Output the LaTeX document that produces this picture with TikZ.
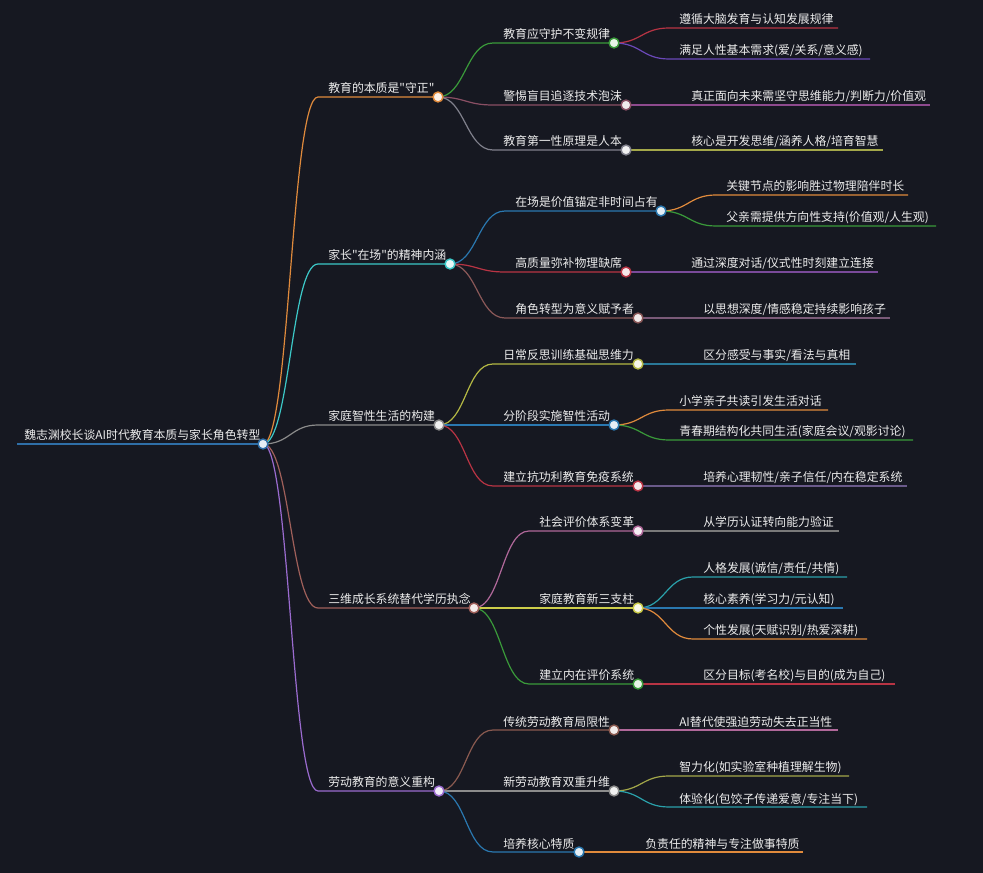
\documentclass[tikz,border=0pt]{standalone}
\usepackage{fontspec}
\newfontfamily\cjk{Noto Sans CJK SC}
\usetikzlibrary{calc}
\pgfdeclarelayer{front}
\pgfsetlayers{main,front}
\definecolor{bg}{HTML}{161821}
\definecolor{txt}{HTML}{ECECEC}
\definecolor{rootblue}{HTML}{2F6FA8}
\definecolor{corange}{HTML}{E08A3C}
\definecolor{ccyan}{HTML}{3CC8C8}
\definecolor{cgrey}{HTML}{8C8C8C}
\definecolor{cbrownred}{HTML}{A0605A}
\definecolor{cpurple}{HTML}{9B6BD0}
\definecolor{cgreen}{HTML}{3A9A3A}
\definecolor{crosebrown}{HTML}{8A4F64}
\definecolor{cslate}{HTML}{80808C}
\definecolor{cred}{HTML}{B83444}
\definecolor{cviolet}{HTML}{6A48B8}
\definecolor{cplum}{HTML}{8E4A8E}
\definecolor{colive}{HTML}{A4A84A}
\definecolor{cblue}{HTML}{2A78B0}
\definecolor{cbrown}{HTML}{8A5858}
\definecolor{clilac}{HTML}{7A4A9A}
\definecolor{cmauve}{HTML}{7A5A78}
\definecolor{cyg}{HTML}{B4B844}
\definecolor{ctealblue}{HTML}{2A7898}
\definecolor{cdusk}{HTML}{6A5A8A}
\definecolor{cpink}{HTML}{B0689A}
\definecolor{cyellow}{HTML}{CDCD4A}
\definecolor{cteal}{HTML}{2AA0AA}
\definecolor{cgreyd}{HTML}{7A7A7A}
\definecolor{cbrowne}{HTML}{8A5A50}
\tikzset{
  lbl/.style={anchor=base west, inner sep=0pt, text=txt, font=\cjk\fontsize{8.9}{10}\selectfont},
  dotn/.style={circle, inner sep=0pt, minimum size=7.4pt, line width=1.1pt, draw=#1, fill=white!88!#1},
  link/.style={line width=0.9pt, draw=#1},
  mm/.style={to path={.. controls +(27,0) and +(-27,0) .. (\tikztotarget)}}
}
% parent, name, textx, liney, dotx, colour, text
\newcommand\mmchild[7]{%
  \coordinate (#2s) at ({#3-10},#4);
  \node[lbl] (#2t) at (#3,{#4-4}) {#7};
  \begin{pgfonlayer}{front}\node[dotn=#6] (#2) at (#5,#4) {};\end{pgfonlayer}
  \draw[link=#6] (#1.center) to[mm] (#2s) -- (#2.center);
}
% parent, name, textx, liney, endx, colour, text
\newcommand\mmleaf[7]{%
  \coordinate (#2s) at ({#3-10},#4);
  \coordinate (#2e) at (#5,#4);
  \node[lbl] (#2t) at (#3,{#4-4}) {#7};
  \draw[link=#6] (#1.center) to[mm] (#2s) -- (#2e);
}
\begin{document}
\begin{tikzpicture}[x=0.75pt,y=-0.75pt]
\fill[bg] (0,0) rectangle (983,873);
\useasboundingbox (0,0) rectangle (983,873);

% root
\coordinate (Rs) at (17,444);
\node[lbl] (Rt) at (24,440) {魏志渊校长谈AI时代教育本质与家长角色转型};
\begin{pgfonlayer}{front}\node[dotn=rootblue] (R) at (263,444) {};\end{pgfonlayer}
\draw[link=rootblue, line width=1.8pt] (Rs) -- (R.center);

% level 1
\mmchild{R}{A}{328}{97}{438}{corange}{教育的本质是"守正"}
\mmchild{R}{B}{328}{264}{450}{ccyan}{家长"在场"的精神内涵}
\mmchild{R}{C}{328}{425}{439}{cgrey}{家庭智性生活的构建}
\mmchild{R}{D}{328}{608}{474}{cbrownred}{三维成长系统替代学历执念}
\mmchild{R}{E}{328}{791}{439}{cpurple}{劳动教育的意义重构}

% branch A
\mmchild{A}{A1}{503}{43}{614}{cgreen}{教育应守护不变规律}
\mmchild{A}{A2}{503}{105}{626}{crosebrown}{警惕盲目追逐技术泡沫}
\mmchild{A}{A3}{503}{150}{626}{cslate}{教育第一性原理是人本}
\mmleaf{A1}{A1a}{679}{28}{838}{cred}{遵循大脑发育与认知发展规律}
\mmleaf{A1}{A1b}{679}{59}{870}{cviolet}{满足人性基本需求(爱/关系/意义感)}
\mmleaf{A2}{A2a}{691}{105}{930}{cplum}{真正面向未来需坚守思维能力/判断力/价值观}
\mmleaf{A3}{A3a}{691}{150}{883}{colive}{核心是开发思维/涵养人格/培育智慧}

% branch B
\mmchild{B}{B1}{515}{211}{661}{cblue}{在场是价值锚定非时间占有}
\mmchild{B}{B2}{515}{272}{626}{cred}{高质量弥补物理缺席}
\mmchild{B}{B3}{515}{318}{638}{cbrown}{角色转型为意义赋予者}
\mmleaf{B1}{B1a}{726}{195}{908}{corange}{关键节点的影响胜过物理陪伴时长}
\mmleaf{B1}{B1b}{726}{226}{936}{cgreen}{父亲需提供方向性支持(价值观/人生观)}
\mmleaf{B2}{B2a}{691}{272}{878}{clilac}{通过深度对话/仪式性时刻建立连接}
\mmleaf{B3}{B3a}{703}{318}{890}{cmauve}{以思想深度/情感稳定持续影响孩子}

% branch C
\mmchild{C}{C1}{503}{364}{638}{cyg}{日常反思训练基础思维力}
\mmchild{C}{C2}{503}{425}{614}{cblue}{分阶段实施智性活动}
\mmchild{C}{C3}{503}{486}{638}{cred}{建立抗功利教育免疫系统}
\mmleaf{C1}{C1a}{703}{364}{856}{ctealblue}{区分感受与事实/看法与真相}
\mmleaf{C2}{C2a}{679}{410}{828}{corange}{小学亲子共读引发生活对话}
\mmleaf{C2}{C2b}{679}{440}{913}{cgreen}{青春期结构化共同生活(家庭会议/观影讨论)}
\mmleaf{C3}{C3a}{703}{486}{907}{cdusk}{培养心理韧性/亲子信任/内在稳定系统}

% branch D
\mmchild{D}{D1}{539}{531}{638}{cpink}{社会评价体系变革}
\mmchild{D}{D2}{539}{608}{638}{cyellow}{家庭教育新三支柱}
\mmchild{D}{D3}{539}{684}{638}{cgreen}{建立内在评价系统}
\mmleaf{D1}{D1a}{703}{531}{839}{cgreyd}{从学历认证转向能力验证}
\mmleaf{D2}{D2a}{703}{577}{847}{cteal}{人格发展(诚信/责任/共情)}
\mmleaf{D2}{D2b}{703}{608}{843}{cblue}{核心素养(学习力/元认知)}
\mmleaf{D2}{D2c}{703}{639}{867}{corange}{个性发展(天赋识别/热爱深耕)}
\mmleaf{D3}{D3a}{703}{684}{895}{cred}{区分目标(考名校)与目的(成为自己)}

% branch E
\mmchild{E}{E1}{503}{730}{614}{cbrowne}{传统劳动教育局限性}
\mmchild{E}{E2}{503}{791}{614}{cgrey}{新劳动教育双重升维}
\mmchild{E}{E3}{503}{852}{579}{cblue}{培养核心特质}
\mmleaf{E1}{E1a}{679}{730}{838}{cpink}{AI替代使强迫劳动失去正当性}
\mmleaf{E2}{E2a}{679}{776}{849}{colive}{智力化(如实验室种植理解生物)}
\mmleaf{E2}{E2b}{679}{807}{867}{cteal}{体验化(包饺子传递爱意/专注当下)}
\mmleaf{E3}{E3a}{645}{852}{803}{corange}{负责任的精神与专注做事特质}
\end{tikzpicture}
\end{document}
